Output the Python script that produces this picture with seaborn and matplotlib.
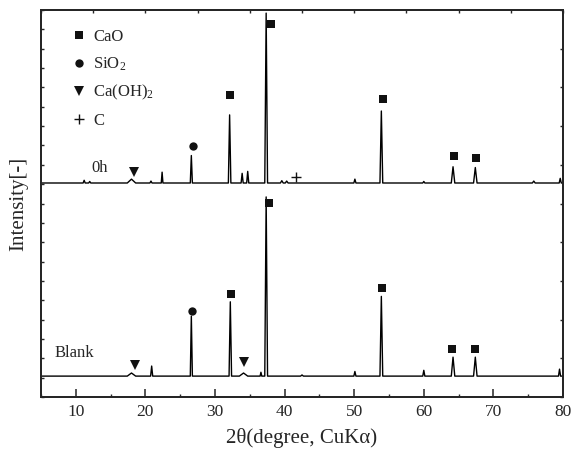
import numpy as np
import pandas as pd
import matplotlib
matplotlib.use("Agg")
import matplotlib.pyplot as plt
import seaborn as sns
from matplotlib.lines import Line2D

# ==============================================================================
# Patrones XRD: Blank vs 0h
# ==============================================================================

# --- trazas: posicion del pico (2theta), altura sobre linea base, semi-ancho ---
blank_base = 0.54
blank_pos = [18.0, 20.9, 26.6, 32.2, 34.1, 36.6, 37.35, 42.5, 50.1, 53.9, 60.0, 64.2, 67.4, 79.5]
blank_h = [0.08, 0.26, 1.55, 1.92, 0.08, 0.10, 4.63, 0.03, 0.12, 2.06, 0.15, 0.49, 0.49, 0.18]
blank_w = [0.6, 0.15, 0.15, 0.18, 0.6, 0.12, 0.2, 0.2, 0.15, 0.2, 0.15, 0.25, 0.25, 0.15]

oh_base = 5.53
oh_pos = [11.2, 12.0, 18.0, 20.8, 22.4, 26.6, 32.1, 33.9, 34.7, 37.35, 39.6, 40.3, 50.1, 53.9, 60.0, 64.2, 67.4, 75.8, 79.6]
oh_h = [0.07, 0.04, 0.10, 0.05, 0.28, 0.71, 1.76, 0.25, 0.30, 4.39, 0.06, 0.05, 0.10, 1.86, 0.04, 0.42, 0.40, 0.05, 0.12]
oh_w = [0.15, 0.15, 0.6, 0.15, 0.12, 0.15, 0.18, 0.15, 0.15, 0.2, 0.2, 0.2, 0.15, 0.2, 0.15, 0.25, 0.25, 0.2, 0.15]

# --- marcadores de fases ---
mk_x = [18.4, 26.9, 32.1, 38.1, 41.6, 54.2, 64.35, 67.5,
        18.5, 26.7, 32.3, 34.1, 37.7, 54.0, 64.0, 67.3]
mk_y = [5.82, 6.49, 7.80, 9.64, 5.68, 7.70, 6.24, 6.17,
        0.83, 2.23, 2.66, 0.90, 5.01, 2.82, 1.23, 1.23]
mk_fase = ['CaOH', 'SiO2', 'CaO', 'CaO', 'C', 'CaO', 'CaO', 'CaO',
           'CaOH', 'SiO2', 'CaO', 'CaOH', 'CaO', 'CaO', 'CaO', 'CaO']

fases = ['CaO', 'SiO2', 'CaOH', 'C']
fase_labels = ['CaO', 'SiO$_2$', 'Ca(OH)$_2$', 'C']
fase_markers = {'CaO': 's', 'SiO2': 'o', 'CaOH': 'v', 'C': '+'}
fase_sizes = {'CaO': 5.8, 'SiO2': 6.0, 'CaOH': 7.2, 'C': 6.5}


def vertices(base, pos, h, w):
    xs, ys = [5.0], [base]
    for p, hh, ww in zip(pos, h, w):
        xs += [p - ww, p, p + ww]
        ys += [base, base + hh, base]
    xs.append(80.0)
    ys.append(base)
    return xs, ys


bx, by = vertices(blank_base, blank_pos, blank_h, blank_w)
ox, oy = vertices(oh_base, oh_pos, oh_h, oh_w)
df = pd.concat([
    pd.DataFrame({'2theta': bx, 'I': by, 'muestra': 'Blank'}),
    pd.DataFrame({'2theta': ox, 'I': oy, 'muestra': '0h'}),
])
df_mk = pd.DataFrame({'x': mk_x, 'y': mk_y, 'fase': mk_fase})

sns.set_theme(style="ticks")
plt.rcParams['font.family'] = ['Liberation Serif', 'DejaVu Serif']
plt.rcParams['mathtext.default'] = 'regular'

fig = plt.figure(figsize=(5.71, 4.49), dpi=100)
ax = fig.add_axes([0.0718, 0.1158, 0.9142, 0.8619])

sns.lineplot(data=df, x='2theta', y='I', hue='muestra', units='muestra',
             estimator=None, sort=False, palette=['black', 'black'],
             linewidth=1.0, legend=False, ax=ax)

for f in fases:
    sub = df_mk[df_mk['fase'] == f]
    ax.plot(sub['x'], sub['y'], ls='', marker=fase_markers[f], color='#111111',
            markersize=fase_sizes[f], markeredgewidth=1.0 if f == 'C' else 0)

ax.set_xlim(5, 80)
ax.set_ylim(0, 10)
ax.set_xticks(np.arange(10, 81, 10))
ax.set_xticks(np.arange(5, 81, 5), minor=True)
ax.set_yticks(np.arange(0, 10.01, 0.5))
ax.set_yticklabels([])
ax.tick_params(axis='x', direction='in', length=6, width=1.1, labelsize=12.5, pad=5)
ax.tick_params(axis='x', which='minor', direction='in', length=2, width=1)
ax.tick_params(axis='y', direction='in', length=2.5, width=1)
ax.set_xlabel('2θ(degree, CuKα)', fontsize=15, labelpad=6)
ax.set_ylabel('Intensity[-]', fontsize=15, labelpad=6)
for s in ax.spines.values():
    s.set_linewidth(1.3)
    s.set_color('#222222')

top = ax.twiny()
top.set_xlim(5, 80)
top.set_xticks(np.arange(5, 80.1, 7.5))
top.set_xticklabels([])
top.tick_params(axis='x', direction='in', length=2, width=1)
right = ax.twinx()
right.set_ylim(0, 10)
right.set_yticks(np.arange(0, 10.1, 1))
right.set_yticklabels([])
right.tick_params(axis='y', direction='in', length=2.5, width=1)

ax.text(12.2, 5.92, '0h', fontsize=12, va='center', ha='left')
ax.text(7.0, 1.14, 'Blank', fontsize=12, va='center', ha='left')

handles = [Line2D([], [], ls='', marker=fase_markers[f], color='#111111',
                  markersize=fase_sizes[f], markeredgewidth=1.0 if f == 'C' else 0)
           for f in fases]
ax.legend(handles, fase_labels, loc='upper left', bbox_to_anchor=(0.035, 0.985),
          frameon=False, fontsize=12, handlelength=0.8, handletextpad=0.45,
          labelspacing=0.62, borderpad=0.3)

plt.savefig('out.png', dpi=100)
plt.close()
